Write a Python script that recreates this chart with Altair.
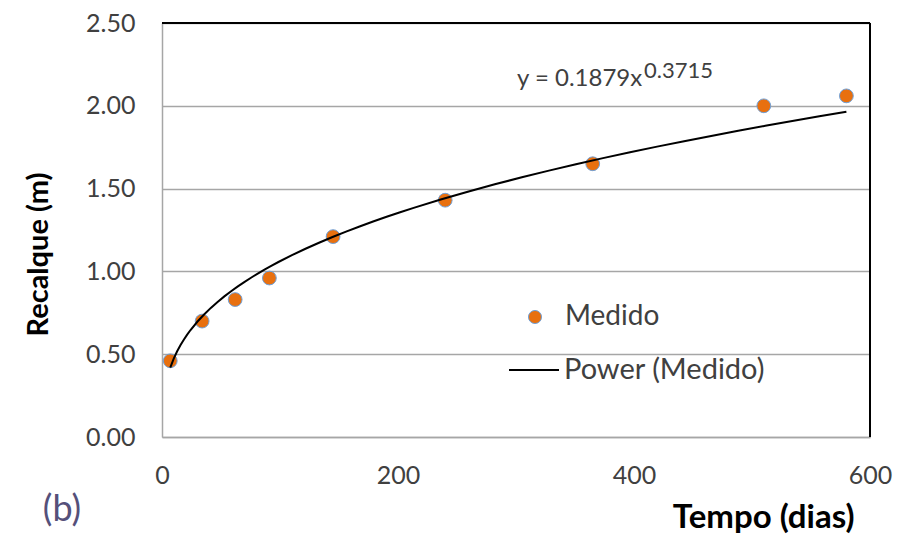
import json
import altair as alt
import pandas as pd

# ---- data ----
dias = [7, 34, 62, 91, 145, 240, 365, 510, 580]
recalque = [0.46, 0.70, 0.83, 0.96, 1.21, 1.43, 1.65, 2.00, 2.06]
x_ticks = [0, 200, 400, 600]
y_ticks = [0.0, 0.5, 1.0, 1.5, 2.0, 2.5]
serie_medido = "Medido"
serie_ajuste = "Power (Medido)"
eq_base = "y = 0.1879x"
eq_exp = "0.3715"
painel = "(b)"
x_title = "Tempo (dias)"
y_title = "Recalque (m)"

df = pd.DataFrame({"dias": dias, "recalque": recalque, "serie": serie_medido})
one = pd.DataFrame({"k": [0]})

W, H = 708, 414
FONT = "Lato"
LABEL = "#404040"
GRID = "#a6a6a6"
ORANGE = "#E8700F"
BLUE_EDGE = "#6FA0D8"

x_enc = alt.X(
    "dias:Q",
    scale=alt.Scale(domain=[0, 600], nice=False, zero=False),
    axis=alt.Axis(
        values=x_ticks, title=x_title, grid=False, ticks=False, tickSize=0,
        labelPadding=38, labelBaseline="middle", labelFlush=False,
        labelOverlap=False, labelFontSize=25, labelColor=LABEL, labelFont=FONT,
        domainColor=GRID, domainWidth=1.5,
        titleFont=FONT, titleFontSize=33, titleFontWeight="bold", titleColor="black",
        titleX=692, titleY=80, titleAlign="right", titleBaseline="middle",
    ),
)
y_enc = alt.Y(
    "recalque:Q",
    scale=alt.Scale(domain=[0, 2.5], nice=False),
    axis=alt.Axis(
        values=y_ticks, format=".2f", title=y_title, grid=True, gridColor=GRID,
        gridWidth=1.5, ticks=False, tickSize=0, labelPadding=27,
        labelFlush=False, labelOverlap=False, labelFontSize=25, labelColor=LABEL,
        labelFont=FONT, domainColor=GRID, domainWidth=1.5,
        titleFont=FONT, titleFontSize=29, titleFontWeight="bold", titleColor="black",
        titleAngle=270, titleX=-124, titleY=231, titleAlign="center",
        titleBaseline="middle",
    ),
)

pts = alt.Chart(df).mark_circle(
    size=190, opacity=1, stroke=BLUE_EDGE, strokeWidth=1
).encode(
    x=x_enc,
    y=y_enc,
    fill=alt.Fill(
        "serie:N",
        scale=alt.Scale(domain=[serie_medido], range=[ORANGE]),
        legend=alt.Legend(
            title=None, orient="none", legendX=359, legendY=280, padding=0,
            symbolType="circle", symbolSize=170, symbolStrokeColor=BLUE_EDGE,
            symbolStrokeWidth=1, symbolOpacity=1, labelOffset=16,
            labelFontSize=28, labelFont=FONT, labelColor=LABEL, labelLimit=0,
        ),
    ),
)

fit = alt.Chart(df).transform_regression(
    "dias", "recalque", method="pow"
).transform_calculate(
    serie=json.dumps(serie_ajuste)
).mark_line(strokeWidth=2).encode(
    x="dias:Q",
    y="recalque:Q",
    stroke=alt.Stroke(
        "serie:N",
        scale=alt.Scale(domain=[serie_ajuste], range=["black"]),
        legend=alt.Legend(
            title=None, orient="none", legendX=346, legendY=321, padding=0,
            symbolType="stroke", symbolSize=2500, symbolStrokeWidth=2,
            labelOffset=4, labelFontSize=29, labelFont=FONT, labelColor=LABEL,
            labelLimit=0,
        ),
    ),
)

top_border = alt.Chart(one).mark_rule(color="black", strokeWidth=2).encode(
    x=alt.value(0), x2=alt.value(W), y=alt.value(0)
)
right_border = alt.Chart(one).mark_rule(color="black", strokeWidth=2).encode(
    x=alt.value(W), y=alt.value(0), y2=alt.value(H)
)

eq1 = alt.Chart(one).mark_text(
    align="left", baseline="middle", font=FONT, fontSize=24, color=LABEL
).encode(x=alt.value(355), y=alt.value(56), text=alt.value(eq_base))
eq2 = alt.Chart(one).mark_text(
    align="left", baseline="middle", font=FONT, fontSize=22, color=LABEL
).encode(x=alt.value(482), y=alt.value(48), text=alt.value(eq_exp))

lab_b = alt.Chart(one).mark_text(
    align="center", baseline="middle", font=FONT, fontSize=36, color="#55507a"
).encode(x=alt.value(-100), y=alt.value(487), text=alt.value(painel))

chart = alt.layer(
    pts, fit, top_border, right_border, eq1, eq2, lab_b
).resolve_scale(fill="independent", stroke="independent").properties(
    width=W, height=H,
    autosize=alt.AutoSizeParams(type="none"),
    padding={"left": 162, "top": 23, "right": 36, "bottom": 97},
    background="white",
).configure_view(stroke=None)

chart.save("out.html", embed_options={"renderer": "svg", "actions": False})
